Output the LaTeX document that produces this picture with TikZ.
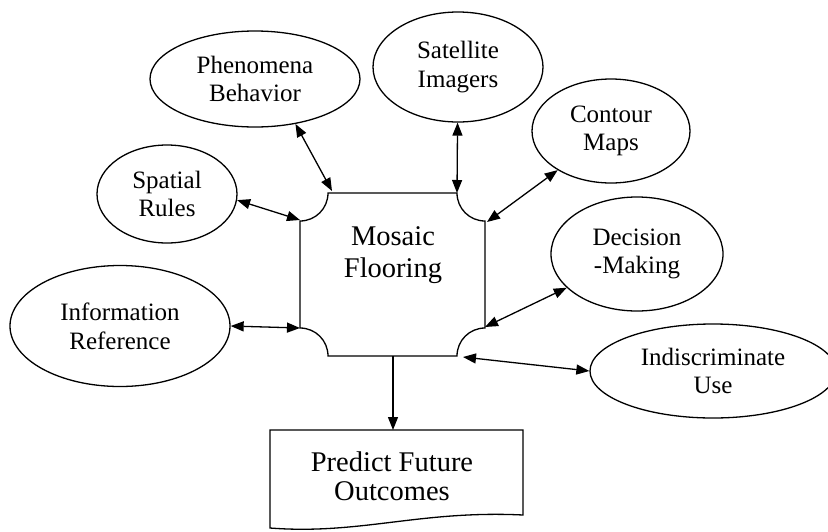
\documentclass[tikz,border=0pt]{standalone}
\usepackage{fontspec}
\setmainfont{Liberation Serif}
\usetikzlibrary{shapes.geometric,arrows.meta}
\begin{document}
\begin{tikzpicture}[x=1pt,y=-1pt,
  oval/.style={ellipse,draw,line width=1.3pt,inner sep=0pt,align=center,
    font=\fontsize{25}{28.75}\selectfont},
  boxtext/.style={inner sep=0pt,align=center,font=\fontsize{28.5}{32}\selectfont},
  doctext/.style={inner sep=0pt,align=center,font=\fontsize{28.5}{29}\selectfont},
  outline/.style={draw,line width=1.3pt,line join=miter},
  tip/.tip={Triangle[length=13pt,width=10pt]},
  link/.style={line width=1.3pt,tip-tip},
  onelink/.style={line width=1.3pt,-tip}]
\useasboundingbox (0,0) rectangle (828,531);

% ellipses
\node[oval,minimum width=210pt,minimum height=96pt] (phe) at (255,79) {Phenomena\\Behavior};
\node[oval,minimum width=170pt,minimum height=110pt] (sat) at (458,67) {Satellite\\Imagers};
\node[oval,minimum width=158pt,minimum height=104pt] (con) at (611,131) {Contour\\Maps};
\node[oval,minimum width=140pt,minimum height=98pt] (spa) at (167,194) {Spatial\\Rules};
\node[oval,minimum width=172pt,minimum height=114pt] (dec) at (637,254) {Decision\\-Making};
\node[oval,minimum width=220pt,minimum height=121pt] (inf) at (120,326) {Information\\Reference};
\node[oval,minimum width=246pt,minimum height=94pt] (ind) at (713,371) {Indiscriminate\\Use};

% central plaque
\draw[outline] (328,193) -- (457,193)
  .. controls (457,208.5) and (469.5,221) .. (485,221) -- (485,328)
  .. controls (469.5,328) and (457,340.5) .. (457,356) -- (328,356)
  .. controls (328,340.5) and (315.5,328) .. (300,328) -- (300,221)
  .. controls (315.5,221) and (328,208.5) .. (328,193) -- cycle;
\node[boxtext] (mos) at (393,255) {Mosaic\\Flooring};

% document shape
\draw[outline] (270,430) -- (523,430) -- (523,515)
  .. controls (420,510) and (360,535) .. (270,528) -- cycle;
\node[doctext] (pre) at (392,476) {Predict Future\\Outcomes};

% connection points on the plaque and document
\coordinate (cPhe) at (332,191);
\coordinate (cSat) at (457,193);
\coordinate (cCon) at (487,222);
\coordinate (cSpa) at (300,220);
\coordinate (cInf) at (300,328);
\coordinate (cDec) at (485,327);
\coordinate (cInd) at (463,357);
\coordinate (cBot) at (393,356);
\coordinate (cDoc) at (393,430);

% connectors
\draw[link] (phe.-48) -- (cPhe);
\draw[link] (sat) -- (cSat);
\draw[link] (con) -- (cCon);
\draw[link] (spa.-5) -- (cSpa);
\draw[link] (inf.east) -- (cInf);
\draw[link] (dec) -- (cDec);
\draw[link] (ind.west) -- (cInd);
\draw[onelink] (cBot) -- (cDoc);
\end{tikzpicture}
\end{document}
